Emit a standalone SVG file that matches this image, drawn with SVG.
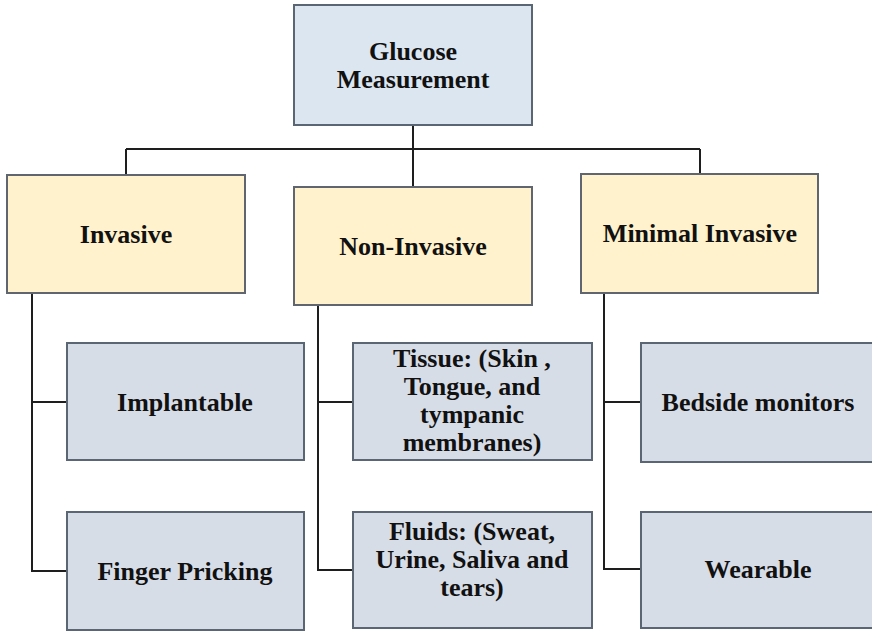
<svg xmlns="http://www.w3.org/2000/svg" width="872" height="631" viewBox="0 0 872 631">
<style>
.box{stroke-width:2}
.root{fill:#dce6f1;stroke:#5b6675}
.l1{fill:#fff2cc;stroke:#5f6670}
.l2{fill:#d7dde7;stroke:#5b6675}
text{font-family:"Liberation Serif","Times New Roman",serif;font-weight:bold;font-size:26px;fill:#111;text-anchor:middle}
.conn{stroke:#1e1e1e;stroke-width:2;fill:none}
</style>
<rect width="872" height="631" fill="#ffffff"/>
<g id="connectors">
<path class="conn" d="M413 125 V187"/>
<path class="conn" d="M126 149 H700"/>
<path class="conn" d="M126 149 V175"/>
<path class="conn" d="M700 149 V174"/>
<path class="conn" d="M32 293 V571 H67 M32 402 H67"/>
<path class="conn" d="M318 305 V570 H353 M318 402 H353"/>
<path class="conn" d="M604 293 V569 H641 M604 402 H641"/>
</g>
<g id="glucose">
<rect class="box root" x="294" y="5" width="238" height="120"/>
<text x="413" y="60">Glucose</text>
<text x="413" y="88">Measurement</text>
</g>
<g id="invasive">
<rect class="box l1" x="7" y="175" width="238" height="118"/>
<text x="126" y="243">Invasive</text>
</g>
<g id="non-invasive">
<rect class="box l1" x="294" y="187" width="238" height="118"/>
<text x="413" y="255">Non-Invasive</text>
</g>
<g id="minimal-invasive">
<rect class="box l1" x="581" y="174" width="237" height="119"/>
<text x="700" y="242">Minimal Invasive</text>
</g>
<g id="implantable">
<rect class="box l2" x="67" y="343" width="237" height="117"/>
<text x="185" y="411">Implantable</text>
</g>
<g id="finger-pricking">
<rect class="box l2" x="67" y="512" width="237" height="118"/>
<text x="185" y="580">Finger Pricking</text>
</g>
<g id="tissue">
<rect class="box l2" x="353" y="343" width="239" height="117"/>
<text x="472" y="367">Tissue: (Skin ,</text>
<text x="472" y="395">Tongue, and</text>
<text x="472" y="423">tympanic</text>
<text x="472" y="451">membranes)</text>
</g>
<g id="fluids">
<rect class="box l2" x="353" y="512" width="239" height="116"/>
<text x="472" y="540">Fluids: (Sweat,</text>
<text x="472" y="568">Urine, Saliva and</text>
<text x="472" y="596">tears)</text>
</g>
<g id="bedside">
<rect class="box l2" x="641" y="343" width="238" height="119"/>
<text x="758" y="411">Bedside monitors</text>
</g>
<g id="wearable">
<rect class="box l2" x="641" y="512" width="238" height="116"/>
<text x="758" y="578">Wearable</text>
</g>
</svg>
